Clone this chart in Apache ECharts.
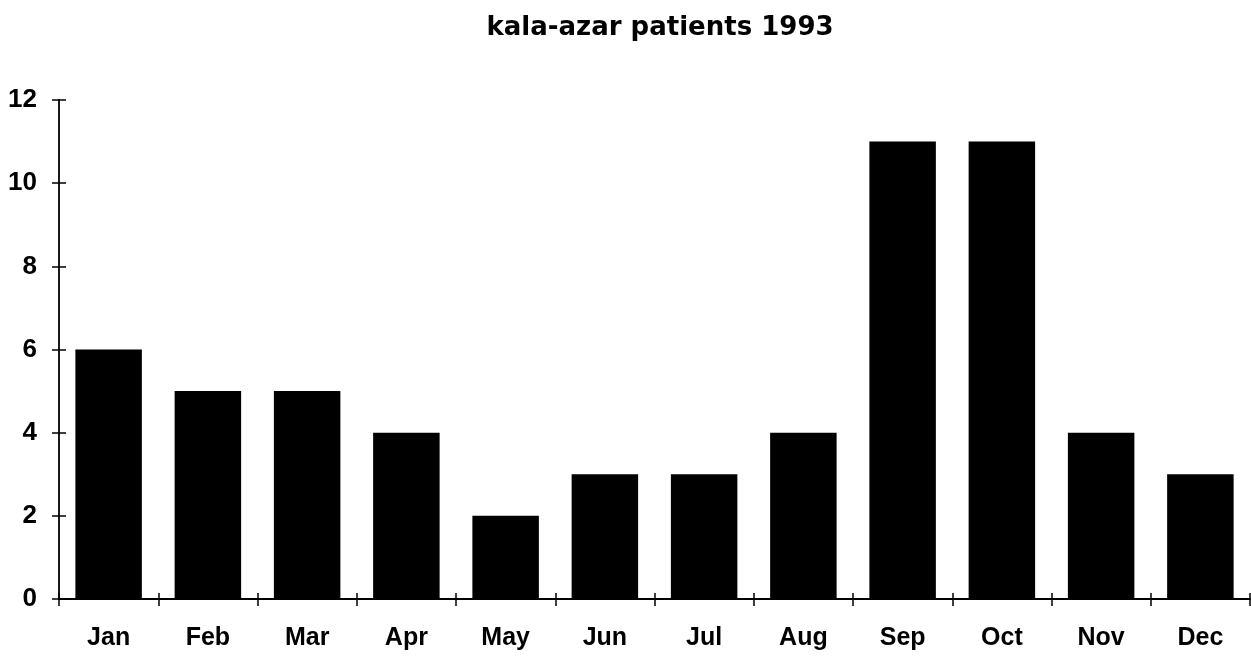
<!DOCTYPE html>
<html><head><meta charset="utf-8">
<script src="https://cdn.jsdelivr.net/npm/echarts@6/dist/echarts.min.js"></script>
<style>html,body{margin:0;padding:0;background:#fff}#c{width:1251px;height:660px}</style>
</head><body><div id="c"></div>
<script>
const categories = ['Jan','Feb','Mar','Apr','May','Jun','Jul','Aug','Sep','Oct','Nov','Dec'];
const patients = [6,5,5,4,2,3,3,4,11,11,4,3];
const titleText = 'kala-azar patients 1993';

const font = 'Liberation Sans, Arial, sans-serif';
const tickStyle = {color: '#000', width: 1.5};
const chart = echarts.init(document.getElementById('c'));
chart.setOption({
  animation: false,
  backgroundColor: '#fff',
  title: {
    text: titleText, left: 655, top: 10, textAlign: 'center',
    textStyle: {fontFamily: 'DejaVu Sans', fontWeight: 'bold', fontSize: 26, color: '#000'}
  },
  grid: {left: 59, right: 1, top: 100, bottom: 61, containLabel: false},
  xAxis: [{
    type: 'category', data: categories,
    axisLine: {lineStyle: {color: '#000', width: 1.8}},
    axisTick: {show: true, inside: false, length: 7, lineStyle: tickStyle},
    axisLabel: {color: '#000', fontFamily: font, fontWeight: 'bold', fontSize: 25, margin: 27}
  }, {
    type: 'category', data: categories, position: 'bottom',
    axisLine: {show: false},
    axisTick: {show: true, inside: true, length: 6, lineStyle: tickStyle},
    axisLabel: {show: false}
  }],
  yAxis: [{
    type: 'value', min: 0, max: 12, interval: 2,
    splitLine: {show: false},
    axisLine: {show: true, lineStyle: {color: '#000', width: 1.8}},
    axisTick: {show: true, length: 7, lineStyle: tickStyle},
    axisLabel: {color: '#000', fontFamily: font, fontWeight: 'bold', fontSize: 26, margin: 22}
  }, {
    type: 'value', min: 0, max: 12, interval: 2, position: 'left',
    splitLine: {show: false},
    axisLine: {show: false},
    axisTick: {show: true, inside: true, length: 7, lineStyle: tickStyle},
    axisLabel: {show: false}
  }],
  series: [{
    type: 'bar', data: patients, barCategoryGap: '33%',
    itemStyle: {color: '#000'}
  }]
});
</script></body></html>
